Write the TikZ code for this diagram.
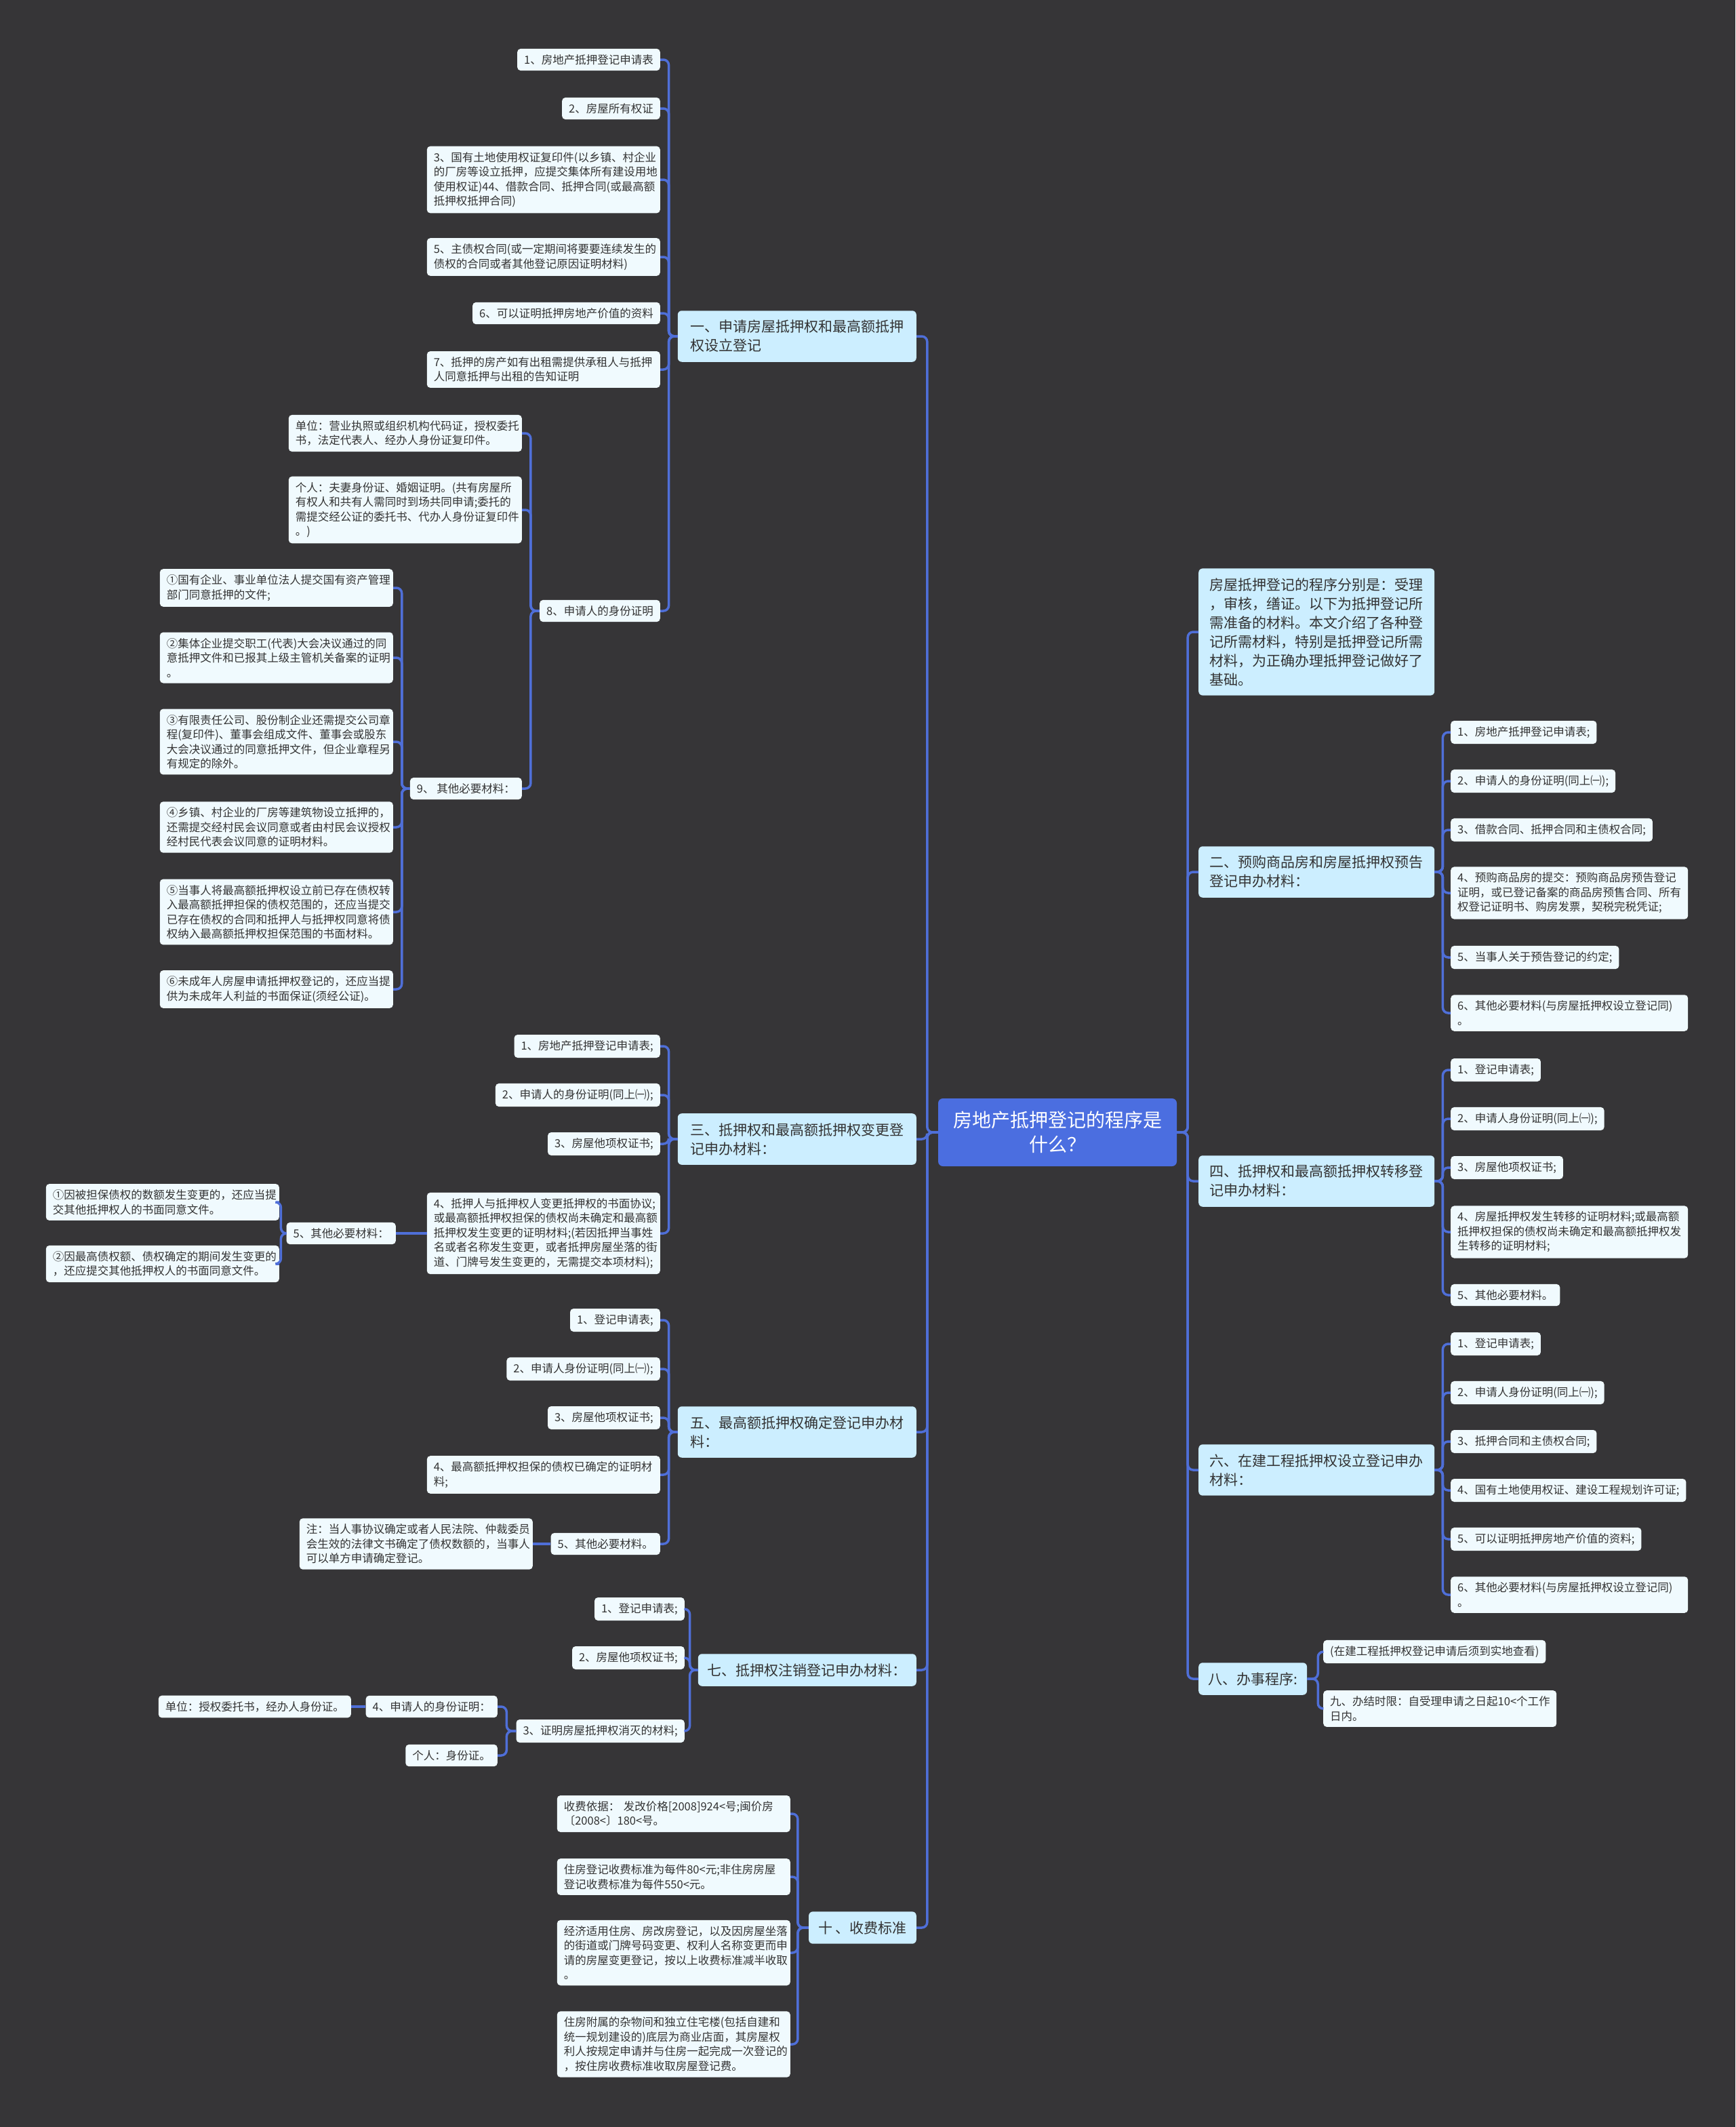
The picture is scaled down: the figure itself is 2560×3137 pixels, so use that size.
\documentclass[tikz,border=0pt]{standalone}
\usepackage{fontspec}
\newfontfamily\cjk{Noto Sans CJK SC}
\definecolor{bgc}{HTML}{363537}
\definecolor{rootc}{HTML}{4B6EE0}
\definecolor{subc}{HTML}{CCEEFF}
\definecolor{leafc}{HTML}{F0FAFE}
\definecolor{linkc}{HTML}{4F6FD8}
\definecolor{txtc}{HTML}{333333}
\begin{document}
\begin{tikzpicture}[x=1pt,y=-1pt,
  rootnd/.style={fill=rootc,rounded corners=7pt,text=white,align=center,inner sep=0pt,minimum width=352pt,minimum height=100pt,font=\cjk\fontsize{28}{36}\selectfont},
  sub/.style={fill=subc,rounded corners=6pt,text=txtc,align=left,inner xsep=14pt,inner ysep=14pt,font=\cjk\fontsize{21}{28}\selectfont},
  leaf/.style={fill=leafc,rounded corners=5pt,text=txtc,align=left,inner xsep=10pt,inner ysep=8.5pt,font=\cjk\fontsize{16.5}{21.5}\selectfont},
  wleaf/.style={leaf,text width=324pt},
  rleaf/.style={leaf,text width=330pt},
  link/.style={draw=linkc,line width=3.5pt,rounded corners=8pt}]
\fill[bgc] (0,0) rectangle (2560,3137);
% centre
\node[rootnd] (root) at (1560,1670) {房地产抵押登记的程序是\\什么？};
% left side
\node[sub,anchor=east,minimum width=352pt] (b1) at (1352,496) {一、申请房屋抵押权和最高额抵押\\权设立登记};
\node[leaf,anchor=east] (a1) at (974,88) {1、房地产抵押登记申请表};
\node[leaf,anchor=east] (a2) at (974,160) {2、房屋所有权证};
\node[wleaf,anchor=east] (a3) at (974,265) {3、国有土地使用权证复印件(以乡镇、村企业\\的厂房等设立抵押，应提交集体所有建设用地\\使用权证)44、借款合同、抵押合同(或最高额\\抵押权抵押合同)};
\node[wleaf,anchor=east] (a5) at (974,379) {5、主债权合同(或一定期间将要要连续发生的\\债权的合同或者其他登记原因证明材料)};
\node[leaf,anchor=east] (a6) at (974,462) {6、可以证明抵押房地产价值的资料};
\node[wleaf,anchor=east] (a7) at (974,545) {7、抵押的房产如有出租需提供承租人与抵押\\人同意抵押与出租的告知证明};
\node[leaf,anchor=east] (a8) at (974,901) {8、申请人的身份证明};
\node[wleaf,anchor=east] (a8u) at (770,639) {单位：营业执照或组织机构代码证，授权委托\\书，法定代表人、经办人身份证复印件。};
\node[wleaf,anchor=east] (a8p) at (770,752) {个人：夫妻身份证、婚姻证明。(共有房屋所\\有权人和共有人需同时到场共同申请;委托的\\需提交经公证的委托书、代办人身份证复印件\\。)};
\node[leaf,anchor=east] (a9) at (770,1163) {9、 其他必要材料：};
\node[wleaf,anchor=east] (a9a) at (580,867) {①国有企业、事业单位法人提交国有资产管理\\部门同意抵押的文件;};
\node[wleaf,anchor=east] (a9b) at (580,970) {②集体企业提交职工(代表)大会决议通过的同\\意抵押文件和已报其上级主管机关备案的证明\\。};
\node[wleaf,anchor=east] (a9c) at (580,1094) {③有限责任公司、股份制企业还需提交公司章\\程(复印件)、董事会组成文件、董事会或股东\\大会决议通过的同意抵押文件，但企业章程另\\有规定的除外。};
\node[wleaf,anchor=east] (a9d) at (580,1220) {④乡镇、村企业的厂房等建筑物设立抵押的，\\还需提交经村民会议同意或者由村民会议授权\\经村民代表会议同意的证明材料。};
\node[wleaf,anchor=east] (a9e) at (580,1345) {⑤当事人将最高额抵押权设立前已存在债权转\\入最高额抵押担保的债权范围的，还应当提交\\已存在债权的合同和抵押人与抵押权同意将债\\权纳入最高额抵押权担保范围的书面材料。};
\node[wleaf,anchor=east] (a9f) at (580,1459) {⑥未成年人房屋申请抵押权登记的，还应当提\\供为未成年人利益的书面保证(须经公证)。};
\node[sub,anchor=east,minimum width=352pt] (b3) at (1352,1680) {三、抵押权和最高额抵押权变更登\\记申办材料：};
\node[leaf,anchor=east] (c1) at (974,1543) {1、房地产抵押登记申请表;};
\node[leaf,anchor=east] (c2) at (974,1615) {2、申请人的身份证明(同上㈠);};
\node[leaf,anchor=east] (c3) at (974,1687) {3、房屋他项权证书;};
\node[wleaf,anchor=east] (c4) at (974,1819) {4、抵押人与抵押权人变更抵押权的书面协议;\\或最高额抵押权担保的债权尚未确定和最高额\\抵押权发生变更的证明材料;(若因抵押当事姓\\名或者名称发生变更，或者抵押房屋坐落的街\\道、门牌号发生变更的，无需提交本项材料);};
\node[leaf,anchor=east] (c5) at (584,1819) {5、其他必要材料：};
\node[wleaf,anchor=east] (c5a) at (412,1773) {①因被担保债权的数额发生变更的，还应当提\\交其他抵押权人的书面同意文件。};
\node[wleaf,anchor=east] (c5b) at (412,1864) {②因最高债权额、债权确定的期间发生变更的\\，还应提交其他抵押权人的书面同意文件。};
\node[sub,anchor=east,minimum width=352pt] (b5) at (1352,2112) {五、最高额抵押权确定登记申办材\\料：};
\node[leaf,anchor=east] (e1) at (974,1947) {1、登记申请表;};
\node[leaf,anchor=east] (e2) at (974,2019) {2、申请人身份证明(同上㈠);};
\node[leaf,anchor=east] (e3) at (974,2091) {3、房屋他项权证书;};
\node[wleaf,anchor=east] (e4) at (974,2175) {4、最高额抵押权担保的债权已确定的证明材\\料;};
\node[leaf,anchor=east] (e5) at (974,2277) {5、其他必要材料。};
\node[wleaf,anchor=east] (e5n) at (786,2277) {注：当人事协议确定或者人民法院、仲裁委员\\会生效的法律文书确定了债权数额的，当事人\\可以单方申请确定登记。};
\node[sub,anchor=east,minimum width=316pt] (b7) at (1352,2463) {七、抵押权注销登记申办材料：};
\node[leaf,anchor=east] (f1) at (1010,2373) {1、登记申请表;};
\node[leaf,anchor=east] (f2) at (1010,2445) {2、房屋他项权证书;};
\node[leaf,anchor=east] (f3) at (1010,2553) {3、证明房屋抵押权消灭的材料;};
\node[leaf,anchor=east] (f3a) at (734,2517) {4、申请人的身份证明：};
\node[leaf,anchor=east] (f3b) at (734,2589) {个人：身份证。};
\node[leaf,anchor=east] (f3u) at (518,2517) {单位：授权委托书，经办人身份证。};
\node[sub,anchor=east,minimum width=152pt] (b10) at (1352,2843) {十 、收费标准};
\node[wleaf,anchor=east] (h1) at (1166,2675) {收费依据：\ 发改价格[2008]924<号;闽价房\\〔2008<〕180<号。};
\node[wleaf,anchor=east] (h2) at (1166,2768) {住房登记收费标准为每件80<元;非住房房屋\\登记收费标准为每件550<元。};
\node[wleaf,anchor=east] (h3) at (1166,2880) {经济适用住房、房改房登记，以及因房屋坐落\\的街道或门牌号码变更、权利人名称变更而申\\请的房屋变更登记，按以上收费标准减半收取\\。};
\node[wleaf,anchor=east] (h4) at (1166,3015) {住房附属的杂物间和独立住宅楼(包括自建和\\统一规划建设的)底层为商业店面，其房屋权\\利人按规定申请并与住房一起完成一次登记的\\，按住房收费标准收取房屋登记费。};
% right side
\node[sub,anchor=west,minimum width=348pt] (desc) at (1768,932) {房屋抵押登记的程序分别是：受理\\，审核，缮证。以下为抵押登记所\\需准备的材料。本文介绍了各种登\\记所需材料，特别是抵押登记所需\\材料，为正确办理抵押登记做好了\\基础。};
\node[sub,anchor=west,minimum width=348pt] (b2) at (1768,1286) {二、预购商品房和房屋抵押权预告\\登记申办材料：};
\node[leaf,anchor=west] (i1) at (2140,1080) {1、房地产抵押登记申请表;};
\node[leaf,anchor=west] (i2) at (2140,1152) {2、申请人的身份证明(同上㈠);};
\node[leaf,anchor=west] (i3) at (2140,1224) {3、借款合同、抵押合同和主债权合同;};
\node[rleaf,anchor=west] (i4) at (2140,1317) {4、预购商品房的提交：预购商品房预告登记\\证明，或已登记备案的商品房预售合同、所有\\权登记证明书、购房发票，契税完税凭证;};
\node[leaf,anchor=west] (i5) at (2140,1412) {5、当事人关于预告登记的约定;};
\node[rleaf,anchor=west] (i6) at (2140,1494) {6、其他必要材料(与房屋抵押权设立登记同)\\。};
\node[sub,anchor=west,minimum width=348pt] (b4) at (1768,1742) {四、抵押权和最高额抵押权转移登\\记申办材料：};
\node[leaf,anchor=west] (j1) at (2140,1578) {1、登记申请表;};
\node[leaf,anchor=west] (j2) at (2140,1650) {2、申请人身份证明(同上㈠);};
\node[leaf,anchor=west] (j3) at (2140,1722) {3、房屋他项权证书;};
\node[rleaf,anchor=west] (j4) at (2140,1817) {4、房屋抵押权发生转移的证明材料;或最高额\\抵押权担保的债权尚未确定和最高额抵押权发\\生转移的证明材料;};
\node[leaf,anchor=west] (j5) at (2140,1910) {5、其他必要材料。};
\node[sub,anchor=west,minimum width=348pt] (b6) at (1768,2168) {六、在建工程抵押权设立登记申办\\材料：};
\node[leaf,anchor=west] (k1) at (2140,1982) {1、登记申请表;};
\node[leaf,anchor=west] (k2) at (2140,2054) {2、申请人身份证明(同上㈠);};
\node[leaf,anchor=west] (k3) at (2140,2126) {3、抵押合同和主债权合同;};
\node[leaf,anchor=west] (k4) at (2140,2198) {4、国有土地使用权证、建设工程规划许可证;};
\node[leaf,anchor=west] (k5) at (2140,2270) {5、可以证明抵押房地产价值的资料;};
\node[rleaf,anchor=west] (k6) at (2140,2352) {6、其他必要材料(与房屋抵押权设立登记同)\\。};
\node[sub,anchor=west,minimum width=152pt] (b8) at (1768,2476) {八、办事程序:};
\node[leaf,anchor=west] (m1) at (1952,2436) {(在建工程抵押权登记申请后须到实地查看)};
\node[wleaf,anchor=west] (m2) at (1952,2520) {九、办结时限：自受理申请之日起10<个工作\\日内。};
% connectors, centre to topics
\draw[link] (root.west) -- ++(-16,0) |- (b1.east);
\draw[link] (root.west) -- ++(-16,0) |- (b3.east);
\draw[link] (root.west) -- ++(-16,0) |- (b5.east);
\draw[link] (root.west) -- ++(-16,0) |- (b7.east);
\draw[link] (root.west) -- ++(-16,0) |- (b10.east);
\draw[link] (root.east) -- ++(16,0) |- (desc.west);
\draw[link] (root.east) -- ++(16,0) |- (b2.west);
\draw[link] (root.east) -- ++(16,0) |- (b4.west);
\draw[link] (root.east) -- ++(16,0) |- (b6.west);
\draw[link] (root.east) -- ++(16,0) |- (b8.west);
% connectors, left side
\draw[link] (b1.west) -- ++(-13,0) |- (a1.east);
\draw[link] (b1.west) -- ++(-13,0) |- (a2.east);
\draw[link] (b1.west) -- ++(-13,0) |- (a3.east);
\draw[link] (b1.west) -- ++(-13,0) |- (a5.east);
\draw[link] (b1.west) -- ++(-13,0) |- (a6.east);
\draw[link] (b1.west) -- ++(-13,0) |- (a7.east);
\draw[link] (b1.west) -- ++(-13,0) |- (a8.east);
\draw[link] (a8.west) -- ++(-13,0) |- (a8u.east);
\draw[link] (a8.west) -- ++(-13,0) |- (a8p.east);
\draw[link] (a8.west) -- ++(-13,0) |- (a9.east);
\draw[link] (a9.west) -- ++(-12,0) |- (a9a.east);
\draw[link] (a9.west) -- ++(-12,0) |- (a9b.east);
\draw[link] (a9.west) -- ++(-12,0) |- (a9c.east);
\draw[link] (a9.west) -- ++(-12,0) |- (a9d.east);
\draw[link] (a9.west) -- ++(-12,0) |- (a9e.east);
\draw[link] (a9.west) -- ++(-12,0) |- (a9f.east);
\draw[link] (b3.west) -- ++(-13,0) |- (c1.east);
\draw[link] (b3.west) -- ++(-13,0) |- (c2.east);
\draw[link] (b3.west) -- ++(-13,0) |- (c3.east);
\draw[link] (b3.west) -- ++(-13,0) |- (c4.east);
\draw[link] (c4.west) -- (c5.east);
\draw[link] (c5.west) -- ++(-8,0) |- (c5a.east);
\draw[link] (c5.west) -- ++(-8,0) |- (c5b.east);
\draw[link] (b5.west) -- ++(-13,0) |- (e1.east);
\draw[link] (b5.west) -- ++(-13,0) |- (e2.east);
\draw[link] (b5.west) -- ++(-13,0) |- (e3.east);
\draw[link] (b5.west) -- ++(-13,0) |- (e4.east);
\draw[link] (b5.west) -- ++(-13,0) |- (e5.east);
\draw[link] (e5.west) -- (e5n.east);
\draw[link] (b7.west) -- ++(-12,0) |- (f1.east);
\draw[link] (b7.west) -- ++(-12,0) |- (f2.east);
\draw[link] (b7.west) -- ++(-12,0) |- (f3.east);
\draw[link] (f3.west) -- ++(-14,0) |- (f3a.east);
\draw[link] (f3.west) -- ++(-14,0) |- (f3b.east);
\draw[link] (f3a.west) -- (f3u.east);
\draw[link] (b10.west) -- ++(-16,0) |- (h1.east);
\draw[link] (b10.west) -- ++(-16,0) |- (h2.east);
\draw[link] (b10.west) -- ++(-16,0) |- (h3.east);
\draw[link] (b10.west) -- ++(-16,0) |- (h4.east);
% connectors, right side
\draw[link] (b2.east) -- ++(12,0) |- (i1.west);
\draw[link] (b2.east) -- ++(12,0) |- (i2.west);
\draw[link] (b2.east) -- ++(12,0) |- (i3.west);
\draw[link] (b2.east) -- ++(12,0) |- (i4.west);
\draw[link] (b2.east) -- ++(12,0) |- (i5.west);
\draw[link] (b2.east) -- ++(12,0) |- (i6.west);
\draw[link] (b4.east) -- ++(12,0) |- (j1.west);
\draw[link] (b4.east) -- ++(12,0) |- (j2.west);
\draw[link] (b4.east) -- ++(12,0) |- (j3.west);
\draw[link] (b4.east) -- ++(12,0) |- (j4.west);
\draw[link] (b4.east) -- ++(12,0) |- (j5.west);
\draw[link] (b6.east) -- ++(12,0) |- (k1.west);
\draw[link] (b6.east) -- ++(12,0) |- (k2.west);
\draw[link] (b6.east) -- ++(12,0) |- (k3.west);
\draw[link] (b6.east) -- ++(12,0) |- (k4.west);
\draw[link] (b6.east) -- ++(12,0) |- (k5.west);
\draw[link] (b6.east) -- ++(12,0) |- (k6.west);
\draw[link] (b8.east) -- ++(16,0) |- (m1.west);
\draw[link] (b8.east) -- ++(16,0) |- (m2.west);
\end{tikzpicture}
\end{document}
